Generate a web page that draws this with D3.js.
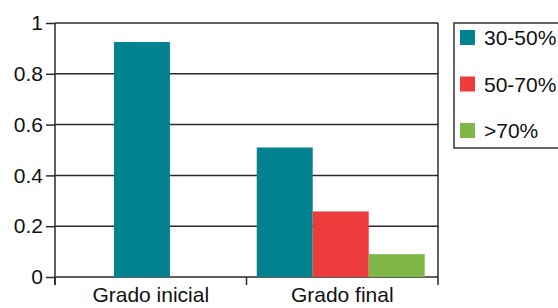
<!DOCTYPE html>
<html>
<head>
<meta charset="utf-8">
<script src="https://cdn.jsdelivr.net/npm/d3@7"></script>
<style>
  body { margin: 0; background: #fff; }
  svg { display: block; font-family: "Liberation Sans", Arial, sans-serif; }
</style>
</head>
<body>
<div id="chart"></div>
<script>
const categories = ["Grado inicial", "Grado final"];
const seriesNames = ["30-50%", "50-70%", ">70%"];
const seriesColors = ["#02838f", "#ee3b3b", "#7fb847"];
// values per category, in series order (null = no bar)
const inicialValues = [0.925, null, null];
const finalValues = [0.51, 0.258, 0.09];
const yTicks = [0, 0.2, 0.4, 0.6, 0.8, 1];

const width = 558, height = 308;
const margin = {top: 23, right: 120, bottom: 31, left: 55};
const plotW = 438 - margin.left, plotH = 277 - margin.top;

const svg = d3.select("#chart").append("svg")
    .attr("width", width)
    .attr("height", height);

const g = svg.append("g")
    .attr("transform", `translate(${margin.left},${margin.top})`);

const x0 = d3.scaleBand().domain(categories).range([0, plotW]);
const y = d3.scaleLinear().domain([0, 1]).range([plotH, 0]);
const color = d3.scaleOrdinal().domain(seriesNames).range(seriesColors);

const barW = 56;

//gridlines
g.append("g")
    .selectAll("line")
    .data(yTicks)
    .join("line")
    .attr("x1", 0).attr("x2", plotW)
    .attr("y1", d => y(d)).attr("y2", d => y(d))
    .attr("stroke", "#2a2a2a")
    .attr("stroke-width", 1.5);

//bars
const rows = [inicialValues, finalValues].map((vals, i) => ({
    cat: categories[i],
    items: seriesNames.map((s, j) => ({series: s, value: vals[j]})).filter(d => d.value !== null)
}));

rows.forEach(row => {
    const n = row.items.length;
    const band = x0.bandwidth();
    //outer padding so each bar is barW wide, bars sit a bit left of centre
    const x1 = d3.scaleBand()
        .domain(row.items.map(d => d.series))
        .range([x0(row.cat), x0(row.cat) + band])
        .paddingOuter((band / barW - n) / 2)
        .align(0.435);
    g.append("g")
        .selectAll("rect")
        .data(row.items)
        .join("rect")
        .attr("x", d => x1(d.series))
        .attr("width", x1.bandwidth())
        .attr("y", d => y(d.value))
        .attr("height", d => plotH - y(d.value))
        .attr("fill", d => color(d.series));
});

//y axis
const yAxis = g.append("g")
    .call(d3.axisLeft(y).tickValues(yTicks).tickFormat(d => d3.format("")(d)).tickSize(9).tickSizeOuter(0));
yAxis.select(".domain").attr("stroke", "#2a2a2a").attr("stroke-width", 1.5)
    .attr("d", `M0,0V${plotH + 8}`);
yAxis.selectAll(".tick line").attr("stroke", "#2a2a2a").attr("stroke-width", 1.5);
yAxis.selectAll(".tick text").attr("font-size", "21px").attr("fill", "#111")
    .attr("font-family", "Liberation Sans, Arial, sans-serif").attr("x", -12);

//x axis
const xAxis = g.append("g")
    .attr("transform", `translate(0,${plotH})`)
    .call(d3.axisBottom(x0).tickSize(0));
xAxis.select(".domain").remove();
xAxis.selectAll(".tick text").attr("font-size", "21px").attr("fill", "#111")
    .attr("font-family", "Liberation Sans, Arial, sans-serif").attr("dy", "1.05em");
g.append("g")
    .selectAll("line")
    .data([0, plotW / 2, plotW])
    .join("line")
    .attr("x1", d => d).attr("x2", d => d)
    .attr("y1", d => d === plotW ? 0 : plotH).attr("y2", plotH + 8)
    .attr("stroke", "#2a2a2a")
    .attr("stroke-width", 1.5);

//legend
const legend = svg.append("g").attr("transform", "translate(454,23)");
legend.append("rect")
    .attr("x", 0).attr("y", 0)
    .attr("width", 120).attr("height", 125)
    .attr("fill", "none")
    .attr("stroke", "#333")
    .attr("stroke-width", 1.5);
seriesNames.forEach((s, i) => {
    legend.append("rect")
        .attr("x", 6).attr("y", 7 + i * 46.5)
        .attr("width", 15).attr("height", 15)
        .attr("fill", color(s));
    legend.append("text")
        .attr("x", 30).attr("y", 22 + i * 46.5)
        .attr("font-size", "21px")
        .attr("fill", "#111")
        .text(s);
});
</script>
</body>
</html>
